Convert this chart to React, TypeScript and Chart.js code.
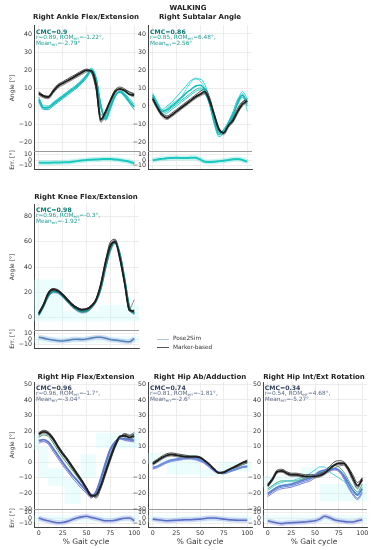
import React, { useEffect, useRef } from "react";
import { Chart, registerables } from "chart.js";
Chart.register(...registerables);

const FONT = "'DejaVu Sans', 'Liberation Sans', sans-serif";

const GAIT = [0, 5, 10, 15, 20, 25, 30, 35, 40, 45, 50, 55, 60, 65, 70, 75, 80, 85, 90, 95, 100];
const X_TICKS = [0, 25, 50, 75, 100];
const ERR_TICKS = [-10, 0, 10];
const TOP_TICKS = [-20, -10, 0, 10, 20, 30, 40];
const KNEE_TICKS = [0, 20, 40, 60, 80];
const HIP_TICKS = [-30, -20, -10, 0, 10, 20, 30, 40, 50];

// ---------- Right Ankle Flex/Extension ----------
const ANKLE_MK_MEAN = [7, 5.5, 5, 8, 11, 12.5, 14, 15.5, 17, 18.5, 19.8, 19.5, 12, -7.5, -3, 3, 8, 9.5, 8.5, 6.5, 6];
const ANKLE_MK_1 = [8, 6, 5.5, 9, 12, 13.5, 15, 16.5, 18, 19.5, 20.5, 19, 10, -8, -4, 3.5, 9, 10.5, 9.5, 7.5, 7];
const ANKLE_MK_2 = [6, 4.5, 4, 7, 10, 11.5, 13, 14.5, 16, 17.5, 19, 19.8, 14, -5, -3, 2, 7, 9, 8, 6, 5];
const ANKLE_MK_3 = [7.5, 5, 4.5, 8.5, 11.5, 13, 14, 15.5, 17.5, 19, 20, 18.5, 9, -9, -5, 2.5, 8, 9.5, 9, 8, 6.5];
const ANKLE_PS_MEAN = [3.5, -1, -1, 1, 3, 5, 7, 9, 11, 13.5, 16.5, 20, 15, 0, -7, -0.5, 5.5, 8, 6, 2.5, -0.5];
const ANKLE_PS_1 = [5, 0, 0, 2, 4, 6, 8, 10, 12, 14.5, 17.5, 21, 16, 1, -8, -2, 5, 8.5, 7, 4, 1];
const ANKLE_PS_2 = [2, -2, -2, 0, 2, 4, 6, 8, 10, 12.5, 15.5, 19, 14, -1, -6, 1, 6, 7.5, 5, 1.5, -2];
const ANKLE_PS_3 = [4, -1, -0.5, 1.5, 3.5, 5.5, 7.5, 9.5, 11.5, 14, 17, 20.5, 15, 0.5, -7.5, 0, 5.5, 8, 6.5, 3, 0];
const ANKLE_ERR = [-4.5, -5, -5, -4.5, -4.5, -4, -4, -3, -2, -1, 0, 0.5, 1, 1.5, 2, 2, 1, 0, -1.5, -3, -6];

// ---------- Right Subtalar Angle ----------
const SUB_MK_MEAN = [4, -1, -5, -6.5, -5, -3, -1, 1, 3, 5, 6.5, 8, 3, -5, -13, -15, -11, -8, -3, 1, 3];
const SUB_MK_1 = [5, 0, -4, -5.5, -4, -2, 0, 2, 4, 6, 8, 9.5, 5, -4, -12, -15, -10, -7, -2, 2, 4];
const SUB_MK_2 = [3, -2, -6, -7.5, -6, -4, -2, 0, 2, 4, 5.5, 6.5, 2, -6, -14, -16, -12, -9, -4, 0, 2];
const SUB_MK_3 = [4.5, -1, -5, -7, -5.5, -3.5, -1.5, 0.5, 2.5, 4.5, 6, 7, 4, -5, -13, -14.5, -10, -6, -1, 2.5, 3.5];
const SUB_PS_MEAN = [6, 1, -3, -2, 0, 2, 4.5, 7, 9, 11, 11.5, 9, 2, -8, -15, -14, -10, -5, 2, 6, 2];
const SUB_PS_1 = [7, 2, -2, 0, 2, 5, 8, 11, 14, 15, 15, 12, 4, -8, -16, -15, -11, -6, 3, 8, 4];
const SUB_PS_2 = [5, 0, -4, -3, -1, 1, 3, 5, 7, 9, 10, 8, 1, -9, -16, -13, -9, -4, 1, 5, 0];
const SUB_PS_3 = [6, 1, -3, -1, 1, 3, 5, 9, 13, 15.5, 14, 10, 2, -7, -14, -14, -10, -5, 2, 7, -3];
const SUB_PS_4 = [4, -1, -5, -4, -2, 0, 2, 4, 6, 8, 9, 7, 1, -10, -17, -15, -9, -3, 4, 6, 1];
const SUB_ERR = [-0.5, 1, 2, 3, 3.5, 4, 3.5, 3.5, 4, 4, 1, -3, -3.5, -3, -2, -1.5, 0, 1.5, 2, 0, -3];

// ---------- Right Knee Flex/Extension ----------
const KNEE_MK_MEAN = [3, 10, 19, 22, 21, 18, 14, 10, 7.5, 6, 6.5, 9, 14, 26, 44, 57, 60, 47, 27, 6, 5];
const KNEE_MK_1 = [4, 11, 20, 23, 22, 19, 15, 11, 8, 6.5, 7, 9.5, 15, 27, 45, 60, 62, 48, 27, 5, 4];
const KNEE_MK_2 = [2, 9, 18, 21, 20, 17, 13, 9, 7, 5.5, 6, 8.5, 13, 24, 41, 55, 59, 49, 29, 7, 14];
const KNEE_MK_3 = [3.5, 10, 19.5, 22.5, 21.5, 18.5, 14.5, 10.5, 8, 6.5, 7, 9.5, 14, 25, 43, 58, 61, 46, 26, 5, 6];
const KNEE_PS_MEAN = [2, 9, 17, 20.5, 20, 17, 13, 9, 6, 4.5, 5, 8, 13, 23, 40, 54, 59.5, 50, 30, 8, 3];
const KNEE_PS_1 = [3, 10, 18, 21.5, 21, 18, 14, 10, 7, 5.5, 6, 9, 14, 25, 42, 56, 61, 51, 31, 9, 3];
const KNEE_PS_2 = [1, 8, 16, 19.5, 19, 16, 12, 8, 5, 3.5, 4, 7, 12, 22, 38, 52, 58, 49, 29, 7, 2];
const KNEE_PS_3 = [2, 9, 17, 20.5, 20, 17, 13, 9, 6, 4.5, 5, 8, 13, 23, 40, 54, 60, 50, 30, 6, 4];
const KNEE_ERR = [3, 1.5, -0.5, -1.7, -3, -3.5, -2.5, -1, -0.5, -1, 0, 1.5, 3, 3, 1.5, -1, -2, -3, -4.5, -5, 1];
const KNEE_BAND_X = [-5, 25, 62, 85, 105];
const KNEE_BAND_LO = [0, -3, -3, -3];
const KNEE_BAND_HI = [17, 30, 5, 10];

// ---------- Right Hip Flex/Extension ----------
const HFLEX_MK_MEAN = [18, 19.5, 18.5, 15, 10, 5.5, 1.5, -3, -7.5, -12, -17, -21.5, -21, -15, -6, 3, 11, 16.5, 17, 16, 17];
const HFLEX_MK_1 = [19, 20.5, 19.5, 16, 11, 6.5, 2.5, -2, -6.5, -11, -16, -21, -22, -16, -7, 2, 10, 16, 18, 17, 18];
const HFLEX_MK_2 = [17, 18.5, 17.5, 14, 9, 4.5, 0.5, -4, -8.5, -13, -18, -22.5, -20, -14, -5, 4, 12, 17, 16, 15, 16];
const HFLEX_MK_3 = [18.5, 20, 19, 15.5, 10.5, 6, 2, -2.5, -7, -11.5, -16.5, -20.5, -23, -17, -8, 1, 9.5, 15.5, 18.5, 17.5, 19];
const HFLEX_PS_MEAN = [14, 14.5, 13, 9, 4.5, 0, -4, -8, -11.5, -15, -18.5, -21.5, -19, -11, -1, 8, 13, 15.5, 15, 14.5, 14];
const HFLEX_PS_1 = [16, 17.5, 16.5, 12.5, 7.5, 3, -1, -5, -9, -13, -17, -21, -21, -14, -4, 5, 12, 16, 17, 15, 16];
const HFLEX_PS_2 = [13, 13.5, 11.5, 7, 2.5, -2, -6, -10, -13.5, -17, -20, -23, -19, -10, 0, 9, 13.5, 15, 14, 13.5, 13];
const HFLEX_PS_3 = [12, 13, 12, 8, 3.5, -1, -5, -9, -12, -15.5, -19, -22, -18, -9, 1, 9, 13, 15, 14.5, 14, 15];
const HFLEX_ERR = [0, -3, -5, -7, -8.5, -8, -6, -3, 0, 2, 3, 1, -1, -3, -5, -5, -4, -2, -0.5, 0, -5];
const HFLEX_BAND_X = [-5, 0, 10, 27, 44, 60, 77, 98, 105];
const HFLEX_BAND_LO = [10, 8, -10, -15, -27, -10, 9, 9];
const HFLEX_BAND_HI = [15, 18, 10, -4, -10, 5, 19, 19];

// ---------- Right Hip Ab/Adduction ----------
const HAB_MK_MEAN = [-1, 1, 3, 4.5, 5, 4.5, 4, 3.5, 3.5, 3.5, 3, 1, -1.5, -4.5, -6.8, -6.5, -5, -3.5, -2, -0.5, 0.5];
const HAB_MK_1 = [0, 2, 4, 5.5, 6, 5.5, 5, 4.5, 4, 4, 3.5, 1.5, -1, -4, -6.5, -6, -4.5, -3, -1.5, 0, 1.5];
const HAB_MK_2 = [-2, 0, 2, 3.5, 4, 3.5, 3, 2.5, 2.5, 2.5, 2, 0, -2.5, -5, -7, -7, -5.5, -4, -3, -1.5, -0.5];
const HAB_MK_3 = [-1.5, 0.5, 2.5, 4, 4.5, 4.5, 4, 3.5, 3.5, 3.5, 3, 0.5, -2, -5, -7, -6.5, -5, -3.5, -2, 0, 1];
const HAB_PS_MEAN = [-3.5, -2.5, -1, 0.5, 1.5, 2, 2.5, 3, 3, 2.5, 1.5, 0, -2.5, -5, -6.5, -7, -6, -5, -4, -3, -2.5];
const HAB_PS_1 = [-1, 1, 3, 4.5, 5, 4.5, 4, 4, 4, 4, 3, 0.5, -2, -5, -7, -6.5, -5, -4, -3, -1.5, -0.5];
const HAB_PS_2 = [-4, -3, -1.5, 0, 1, 1.5, 2, 2.5, 2.5, 2, 1, -0.5, -3, -5.5, -7, -7.5, -6.5, -5.5, -4.5, -3.5, -3];
const HAB_PS_3 = [-4.5, -3.5, -2, -0.5, 0.5, 1, 1.5, 2, 2, 1.5, 0.5, -1, -3.5, -6, -7, -7, -6, -5, -4, -3, -3];
const HAB_ERR = [-2, -3, -4, -5, -4.5, -4, -3.5, -3, -3, -2.5, -2, -1, 0, 0, -1, -2, -3, -3.5, -4, -4, -4];
const HAB_BAND_X = [-5, 15, 50, 70, 85, 105];
const HAB_BAND_LO = [-5, -1, -8, -9, -6];
const HAB_BAND_HI = [0, 6, 2, -4, 0];

// ---------- Right Hip Int/Ext Rotation ----------
const HROT_MK_MEAN = [-15, -11, -6, -5.5, -7, -8, -8, -8.5, -9, -9, -9, -8.5, -7, -4.5, -2, -0.5, -0.5, -4, -10, -15, -11];
const HROT_MK_1 = [-14, -10, -5, -4.5, -6, -7, -7, -7.5, -8, -8, -8, -7.5, -6, -3, 0, 1, 0.5, -3, -8, -13, -10];
const HROT_MK_2 = [-16, -12, -7, -6.5, -8, -9, -9, -9.5, -10, -10, -10, -9.5, -8, -6, -4, -2.5, -2, -5, -11, -16, -12];
const HROT_MK_3 = [-15, -11, -6.5, -6, -7.5, -8.5, -8.5, -9, -9.5, -9.5, -9.5, -9, -7.5, -5, -2.5, -1.5, -1.5, -5.5, -12, -17, -10];
const HROT_PS_MEAN = [-20, -18, -16, -15, -14.5, -14, -13, -12, -11, -10, -8, -6, -5, -5, -4, -5, -8, -13, -18, -21, -17];
const HROT_PS_1 = [-18, -16, -14, -13, -12, -12, -11, -10, -9, -7, -5, -3, -3, -6, -8, -10, -12, -15, -18, -20, -16];
const HROT_PS_2 = [-21, -19, -17, -16, -15.5, -15, -14, -13, -12, -11, -9, -7, -6, -5, -4, -5, -9, -15, -20, -23, -19];
const HROT_PS_3 = [-17, -15, -13, -12, -12, -12, -12, -11, -10, -9.5, -8.5, -7, -5, -3, -2, -3, -6, -11, -16, -19, -14];
const HROT_PS_4 = [-22, -20, -18, -17, -16.5, -16, -15, -14, -13, -12, -10, -8, -7, -6, -5, -6, -10, -16, -21, -24, -20];
const HROT_ERR = [-5, -7, -9, -10, -9, -8.5, -8, -7.5, -7, -6, -5, -2, 3, 1, -3, -5, -6, -7, -7, -5, -3];
const HROT_BAND_X = [-5, 35, 55, 75, 105];
const HROT_BAND_LO = [-22, -16, -10, -25];
const HROT_BAND_HI = [-15, -9, -3, -14];

const ERR_BAND_X = [-5, 105];
const ERR_BAND_LO = [-7];
const ERR_BAND_HI = [5];

type Line = { v: number[]; c: string; w: number; o?: number };
type Band = { xs: number[]; lo: number[]; hi: number[]; c: string };
type PlotProps = {
  left: number; top: number; width: number; height: number;
  ymin: number; ymax: number; yticks: number[];
  xlabels?: boolean; errFrame?: boolean;
  lines: Line[]; bands?: Band[];
};

const AX = 28, PR = 10, M = 7, XH = 12;
const GRID = "#e8e8e8";
const TICK_FONT = { family: FONT, size: 6.3 };

function Plot(p: PlotProps) {
  const ref = useRef<HTMLCanvasElement>(null);
  const cw = Math.round(p.width + AX + PR);
  const ch = Math.round(p.height + 2 * M + (p.xlabels ? XH : 0));
  useEffect(() => {
    const datasets: any[] = [];
    (p.bands || []).forEach((b) => {
      const up = b.xs.map((x, i) => ({ x, y: b.hi[Math.min(i, b.hi.length - 1)] }));
      const dn = b.xs.map((x, i) => ({ x, y: b.lo[Math.min(i, b.lo.length - 1)] }));
      datasets.push({ data: up, stepped: "after", borderWidth: 0, pointRadius: 0, fill: "+1", backgroundColor: b.c, borderColor: "rgba(0,0,0,0)", order: 100 });
      datasets.push({ data: dn, stepped: "after", borderWidth: 0, pointRadius: 0, fill: false, borderColor: "rgba(0,0,0,0)", order: 100 });
    });
    p.lines.forEach((l) =>
      datasets.push({
        data: GAIT.map((x, i) => ({ x, y: l.v[i] })),
        borderColor: l.c, borderWidth: l.w, pointRadius: 0, fill: false,
        cubicInterpolationMode: "monotone", order: l.o ?? 10,
      })
    );
    const frame = {
      id: "frame",
      afterDraw(chart: any) {
        if (!p.errFrame) return;
        const { ctx, chartArea: a } = chart;
        ctx.save();
        ctx.strokeStyle = "#9a9a9a";
        ctx.lineWidth = 1;
        ctx.beginPath();
        ctx.moveTo(a.left, Math.round(a.top) + 0.5);
        ctx.lineTo(a.right, Math.round(a.top) + 0.5);
        ctx.stroke();
        ctx.restore();
      },
    };
    const chart = new Chart(ref.current as HTMLCanvasElement, {
      type: "line",
      data: { datasets },
      options: {
        animation: false,
        responsive: false,
        devicePixelRatio: 1,
        layout: { padding: { top: M, bottom: M, left: 0, right: PR } },
        plugins: { legend: { display: false }, tooltip: { enabled: false } },
        scales: {
          x: {
            type: "linear", min: -5, max: 105,
            afterBuildTicks: (s: any) => { s.ticks = X_TICKS.map((v) => ({ value: v })); },
            afterFit: (s: any) => { s.height = p.xlabels ? XH : 0; },
            ticks: { display: !!p.xlabels, font: TICK_FONT, color: "#333", padding: 3, maxRotation: 0, autoSkip: false },
            grid: { color: GRID, lineWidth: 0.8, drawTicks: false },
            border: { display: !!p.errFrame, color: "#444", width: 1 },
          },
          y: {
            type: "linear", min: p.ymin, max: p.ymax,
            afterBuildTicks: (s: any) => { s.ticks = p.yticks.map((v) => ({ value: v })); },
            afterFit: (s: any) => { s.width = AX; },
            ticks: { font: TICK_FONT, color: "#333", padding: 2, autoSkip: false, callback: (v: any) => String(v).replace("-", "\u2212") },
            grid: { color: GRID, lineWidth: 0.8, drawTicks: false },
            border: { display: true, color: "#444", width: 1 },
          },
        },
      } as any,
      plugins: [frame],
    });
    return () => chart.destroy();
  }, []);
  return (
    <canvas
      ref={ref}
      width={cw}
      height={ch}
      style={{ position: "absolute", left: p.left - AX, top: p.top - M, width: cw, height: ch }}
    />
  );
}

function T(props: { x: number; y: number; size?: number; bold?: boolean; color?: string; anchor?: "left" | "center"; rotate?: boolean; children: any }) {
  const { x, y, size = 6, bold = false, color = "#222", anchor = "left", rotate = false } = props;
  const tf = rotate ? "translate(-50%,-50%) rotate(-90deg)" : anchor === "center" ? "translate(-50%,-50%)" : "translate(0,-50%)";
  return (
    <div style={{ position: "absolute", left: x, top: y, transform: tf, fontFamily: FONT, fontSize: size, fontWeight: bold ? "bold" : "normal", color, whiteSpace: "nowrap", lineHeight: 1 }}>
      {props.children}
    </div>
  );
}

const Sub = ({ children }: any) => (
  <sub style={{ fontSize: "0.7em", verticalAlign: "-0.2em", lineHeight: 0 }}>{children}</sub>
);

function Stats(props: { x: number; y: number; cmc: string; r: string; rom: string; mean: string; c1: string; c2: string }) {
  const { x, y } = props;
  return (
    <>
      <T x={x} y={y} size={6.2} bold color={props.c1}>CMC={props.cmc}</T>
      <T x={x} y={y + 6} size={5.8} color={props.c2}>r={props.r}, ROM<Sub>err</Sub>={props.rom}°,</T>
      <T x={x} y={y + 12} size={5.8} color={props.c2}>Mean<Sub>err</Sub>={props.mean}°</T>
    </>
  );
}

const CYAN_A = "#19c9c6", CYAN_B = "#0fb3b0", CYAN_C = "#45dcd6", CYAN_M = "#10bcbc";
const MK_A = "#3a3a3a", MK_B = "#777777", MK_C = "#555555", MK_M = "#1e1e1e";

function mk(a: number[], b: number[], c: number[], m: number[]): Line[] {
  return [
    { v: a, c: MK_A, w: 0.9, o: 11 },
    { v: b, c: MK_B, w: 0.9, o: 11 },
    { v: c, c: MK_C, w: 0.9, o: 11 },
    { v: m, c: MK_M, w: 1.8, o: 5 },
  ];
}

const TEAL1 = "#0e7a72", TEAL2 = "#1f9e94";
const SLATE1 = "#34425e", SLATE2 = "#5b6a86";
const LIGHT = "rgba(190,248,248,0.3)";

const TOP_Y0 = 25, TOP_H = 126, TOP_EH = 17.5;
const KN_Y0 = 204.2, KN_H = 125.6, KN_EH = 18.2;
const BT_Y0 = 382, BT_H = 127, BT_EH = 18;
const C1L = 33.5, C1W = 104.5, C2L = 148, C2W = 103.7, C3L = 262.6, C3W = 103.8;

function errLines(v: number[], c: string, halo: string, w = 1.6): Line[] {
  return [
    { v, c: halo, w: 5, o: 20 },
    { v, c, w, o: 5 },
  ];
}

export default function App() {
  useEffect(() => {
    document.body.style.margin = "0";
  }, []);
  const errBand: Band = { xs: ERR_BAND_X, lo: ERR_BAND_LO, hi: ERR_BAND_HI, c: "rgba(195,248,248,0.3)" };
  return (
    <div style={{ position: "absolute", left: 0, top: 0, width: 374, height: 550, background: "#fff", overflow: "hidden" }}>
      {/* Top row */}
      <Plot left={C1L} top={TOP_Y0} width={C1W} height={TOP_H} ymin={-25} ymax={45} yticks={TOP_TICKS}
        lines={[
          { v: ANKLE_PS_1, c: CYAN_A, w: 0.9, o: 12 },
          { v: ANKLE_PS_2, c: CYAN_B, w: 0.9, o: 12 },
          { v: ANKLE_PS_3, c: CYAN_C, w: 0.9, o: 12 },
          { v: ANKLE_PS_MEAN, c: CYAN_M, w: 1.8, o: 6 },
          ...mk(ANKLE_MK_1, ANKLE_MK_2, ANKLE_MK_3, ANKLE_MK_MEAN),
        ]} />
      <Plot left={C1L} top={TOP_Y0 + TOP_H} width={C1W} height={TOP_EH} ymin={-16} ymax={16} yticks={ERR_TICKS} errFrame
        lines={errLines(ANKLE_ERR, "#1cc7bd", "rgba(60,215,205,0.3)", 2)} />
      <Plot left={C2L} top={TOP_Y0} width={C2W} height={TOP_H} ymin={-25} ymax={45} yticks={TOP_TICKS}
        lines={[
          { v: SUB_PS_1, c: CYAN_A, w: 0.9, o: 12 },
          { v: SUB_PS_2, c: CYAN_B, w: 0.9, o: 12 },
          { v: SUB_PS_3, c: CYAN_C, w: 0.9, o: 12 },
          { v: SUB_PS_4, c: CYAN_A, w: 0.9, o: 12 },
          { v: SUB_PS_MEAN, c: CYAN_M, w: 1.6, o: 6 },
          ...mk(SUB_MK_1, SUB_MK_2, SUB_MK_3, SUB_MK_MEAN),
        ]} />
      <Plot left={C2L} top={TOP_Y0 + TOP_H} width={C2W} height={TOP_EH} ymin={-16} ymax={16} yticks={ERR_TICKS} errFrame
        lines={errLines(SUB_ERR, "#1cc7bd", "rgba(60,215,205,0.3)", 2)} />

      {/* Knee */}
      <Plot left={C1L} top={KN_Y0} width={C1W} height={KN_H} ymin={-10} ymax={90} yticks={KNEE_TICKS}
        bands={[{ xs: KNEE_BAND_X, lo: KNEE_BAND_LO, hi: KNEE_BAND_HI, c: LIGHT }]}
        lines={[
          { v: KNEE_PS_1, c: "#22a89a", w: 0.9, o: 12 },
          { v: KNEE_PS_2, c: "#8c98dc", w: 0.9, o: 12 },
          { v: KNEE_PS_3, c: "#2f7f5f", w: 0.9, o: 12 },
          { v: KNEE_PS_MEAN, c: "#1a8f8a", w: 1.8, o: 6 },
          ...mk(KNEE_MK_1, KNEE_MK_2, KNEE_MK_3, KNEE_MK_MEAN),
        ]} />
      <Plot left={C1L} top={KN_Y0 + KN_H} width={C1W} height={KN_EH} ymin={-16} ymax={16} yticks={ERR_TICKS} errFrame
        bands={[errBand]} lines={errLines(KNEE_ERR, "#4f83b8", "rgba(160,175,225,0.4)")} />

      {/* Bottom row */}
      <Plot left={C1L} top={BT_Y0} width={C1W} height={BT_H} ymin={-30} ymax={51.5} yticks={HIP_TICKS}
        bands={[{ xs: HFLEX_BAND_X, lo: HFLEX_BAND_LO, hi: HFLEX_BAND_HI, c: LIGHT }]}
        lines={[
          { v: HFLEX_PS_1, c: "#2e8a62", w: 0.9, o: 12 },
          { v: HFLEX_PS_2, c: "#7a6fc8", w: 0.9, o: 12 },
          { v: HFLEX_PS_3, c: "#8fb0e8", w: 0.9, o: 12 },
          { v: HFLEX_PS_MEAN, c: "#5a78d0", w: 1.8, o: 6 },
          ...mk(HFLEX_MK_1, HFLEX_MK_2, HFLEX_MK_3, HFLEX_MK_MEAN),
        ]} />
      <Plot left={C1L} top={BT_Y0 + BT_H} width={C1W} height={BT_EH} ymin={-16} ymax={16} yticks={ERR_TICKS} errFrame xlabels
        bands={[errBand]} lines={errLines(HFLEX_ERR, "#5b6fc6", "rgba(150,160,230,0.4)")} />
      <Plot left={C2L} top={BT_Y0} width={C2W} height={BT_H} ymin={-30} ymax={51.5} yticks={HIP_TICKS}
        bands={[{ xs: HAB_BAND_X, lo: HAB_BAND_LO, hi: HAB_BAND_HI, c: LIGHT }]}
        lines={[
          { v: HAB_PS_1, c: "#1f8a55", w: 0.9, o: 12 },
          { v: HAB_PS_2, c: "#5a7fd8", w: 0.9, o: 12 },
          { v: HAB_PS_3, c: "#8d86d0", w: 0.9, o: 12 },
          { v: HAB_PS_MEAN, c: "#6a8ee0", w: 1.8, o: 6 },
          ...mk(HAB_MK_1, HAB_MK_2, HAB_MK_3, HAB_MK_MEAN),
        ]} />
      <Plot left={C2L} top={BT_Y0 + BT_H} width={C2W} height={BT_EH} ymin={-16} ymax={16} yticks={ERR_TICKS} errFrame xlabels
        bands={[errBand]} lines={errLines(HAB_ERR, "#5b6fc6", "rgba(150,160,230,0.4)")} />
      <Plot left={C3L} top={BT_Y0} width={C3W} height={BT_H} ymin={-30} ymax={51.5} yticks={HIP_TICKS}
        bands={[{ xs: HROT_BAND_X, lo: HROT_BAND_LO, hi: HROT_BAND_HI, c: LIGHT }]}
        lines={[
          { v: HROT_PS_1, c: "#3ec8d8", w: 0.9, o: 12 },
          { v: HROT_PS_2, c: "#4a6cd0", w: 0.9, o: 12 },
          { v: HROT_PS_3, c: "#2f9a6a", w: 0.9, o: 12 },
          { v: HROT_PS_4, c: "#7a70c8", w: 0.9, o: 12 },
          { v: HROT_PS_MEAN, c: "#5a80d0", w: 1.8, o: 6 },
          ...mk(HROT_MK_1, HROT_MK_2, HROT_MK_3, HROT_MK_MEAN),
        ]} />
      <Plot left={C3L} top={BT_Y0 + BT_H} width={C3W} height={BT_EH} ymin={-16} ymax={16} yticks={ERR_TICKS} errFrame xlabels
        bands={[errBand]} lines={errLines(HROT_ERR, "#5b6fc6", "rgba(150,160,230,0.4)")} />

      {/* Titles */}
      <T x={188} y={8} size={7} bold anchor="center">WALKING</T>
      <T x={86} y={17} size={7} bold anchor="center">Right Ankle Flex/Extension</T>
      <T x={200} y={17} size={7} bold anchor="center">Right Subtalar Angle</T>
      <T x={86} y={197} size={7} bold anchor="center">Right Knee Flex/Extension</T>
      <T x={86} y={377} size={7} bold anchor="center">Right Hip Flex/Extension</T>
      <T x={200} y={377} size={7} bold anchor="center">Right Hip Ab/Adduction</T>
      <T x={314} y={377} size={7} bold anchor="center">Right Hip Int/Ext Rotation</T>

      {/* Stats */}
      <Stats x={36} y={31.7} cmc="0.9" r="0.89" rom="-1.22" mean="-2.79" c1={TEAL1} c2={TEAL2} />
      <Stats x={150} y={31.7} cmc="0.86" r="0.85" rom="6.48" mean="2.56" c1={TEAL1} c2={TEAL2} />
      <Stats x={36} y={209.5} cmc="0.98" r="0.96" rom="-0.3" mean="-1.92" c1={TEAL1} c2={TEAL2} />
      <Stats x={36} y={388.3} cmc="0.96" r="0.96" rom="-1.7" mean="-3.04" c1={SLATE1} c2={SLATE2} />
      <Stats x={150} y={388.3} cmc="0.74" r="0.81" rom="-1.81" mean="-2.6" c1={SLATE1} c2={SLATE2} />
      <Stats x={264.7} y={388.3} cmc="0.34" r="0.54" rom="4.68" mean="-5.27" c1={SLATE1} c2={SLATE2} />

      {/* Axis labels */}
      <T x={12} y={88} size={6} rotate color="#333">Angle [°]</T>
      <T x={12} y={160} size={6} rotate color="#333">Err. [°]</T>
      <T x={12} y={267} size={6} rotate color="#333">Angle [°]</T>
      <T x={12} y={339} size={6} rotate color="#333">Err. [°]</T>
      <T x={12} y={445} size={6} rotate color="#333">Angle [°]</T>
      <T x={12} y={518} size={6} rotate color="#333">Err. [°]</T>
      <T x={86} y={542} size={7.5} anchor="center" color="#333">% Gait cycle</T>
      <T x={200} y={542} size={7.5} anchor="center" color="#333">% Gait cycle</T>
      <T x={314} y={542} size={7.5} anchor="center" color="#333">% Gait cycle</T>

      {/* Legend */}
      <div style={{ position: "absolute", left: 157, top: 338.5, width: 12, height: 0, borderTop: "1.5px solid #aec6e4" }} />
      <div style={{ position: "absolute", left: 157, top: 347, width: 12, height: 0, borderTop: "1px solid #555" }} />
      <T x={173} y={339.3} size={5.8} color="#333">Pose2Sim</T>
      <T x={173} y={347.6} size={5.8} color="#333">Marker-based</T>
    </div>
  );
}
